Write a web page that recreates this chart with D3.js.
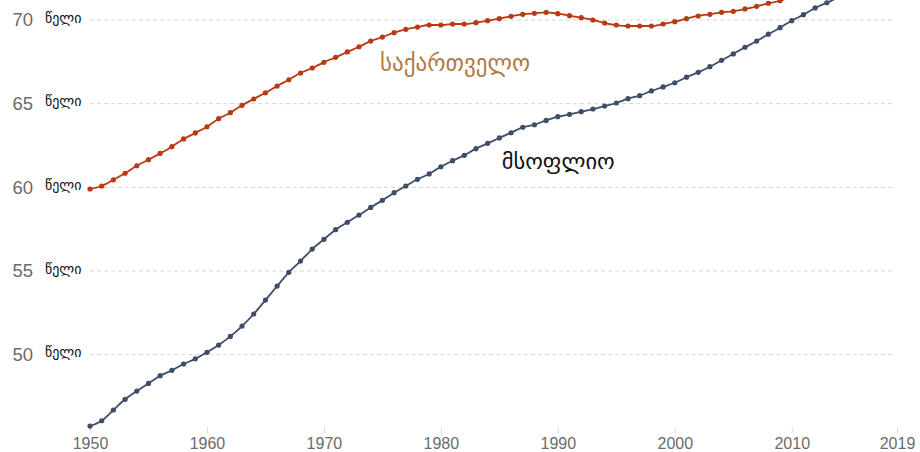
<!DOCTYPE html>
<html>
<head>
<meta charset="utf-8">
<script src="https://cdn.jsdelivr.net/npm/d3@7"></script>
<style>
  body { margin: 0; background: #fff; }
  svg { display: block; }
</style>
</head>
<body>
<div id="chart"></div>
<script>
"use strict";
// life expectancy, Georgia vs world

var years = d3.range(1950, 2020);

// Georgia (values after 2009 run above the top of the frame)
var georgia = [
  59.90, 60.08, 60.45, 60.84, 61.29, 61.65, 62.03, 62.43, 62.89, 63.25,
  63.62, 64.10, 64.46, 64.90, 65.28, 65.65, 66.05, 66.43, 66.83, 67.13,
  67.47, 67.77, 68.09, 68.40, 68.74, 68.98, 69.24, 69.44, 69.58, 69.70,
  69.70, 69.76, 69.76, 69.84, 69.96, 70.08, 70.22, 70.34, 70.40, 70.46,
  70.38, 70.26, 70.14, 70.00, 69.82, 69.70, 69.64, 69.64, 69.64, 69.76,
  69.90, 70.08, 70.24, 70.34, 70.46, 70.52, 70.66, 70.82, 71.00, 71.15,
  71.40, 71.60, 71.80, 72.00, 72.20, 72.40, 72.60, 72.80, 73.00, 73.20
];

// World
var world = [
  45.73, 46.05, 46.69, 47.33, 47.82, 48.28, 48.74, 49.06, 49.44, 49.75,
  50.14, 50.57, 51.09, 51.71, 52.43, 53.26, 54.10, 54.92, 55.59, 56.31,
  56.89, 57.47, 57.91, 58.34, 58.80, 59.22, 59.68, 60.08, 60.48, 60.80,
  61.23, 61.59, 61.91, 62.31, 62.63, 62.95, 63.26, 63.59, 63.74, 64.00,
  64.22, 64.36, 64.52, 64.68, 64.86, 65.04, 65.30, 65.48, 65.76, 66.00,
  66.25, 66.58, 66.87, 67.21, 67.59, 67.97, 68.37, 68.74, 69.15, 69.54,
  69.96, 70.32, 70.72, 71.03, 71.35, 71.65, 71.95, 72.20, 72.45, 72.70
];

var yTicks = [50, 55, 60, 65, 70];
var yUnit = "წელი";
var xTicks = [1950, 1960, 1970, 1980, 1990, 2000, 2010, 2019];

var seriesNames = ["საქართველო", "მსოფლიო"];
// where each name label sits (year, value)
var labelAt = [[1974.8, 67.45], [1985.2, 61.55]];

//Visualization parameters
var svgWidth = 920;
var svgHeight = 452;
var georgiaColor = "#b83a14";
var worldColor = "#3e4e69";
var labelColors = ["#b07a45", "#111"];

var x = d3.scaleLinear().domain([1950, 2019]).range([90, 897]);
var y = d3.scaleLinear().domain([45, 70]).range([438.3, 20]);

var svg = d3.select("#chart")
            .append("svg")
            .attr("width", svgWidth)
            .attr("height", svgHeight);

svg.append("rect")
    .attr("width", "100%")
    .attr("height", "100%")
    .attr("fill", "#fff");

//grid lines
svg.append("g").selectAll("line")
    .data(yTicks)
    .join("line")
    .attr("x1", x(1950))
    .attr("x2", 895)
    .attr("y1", function(d){ return y(d); })
    .attr("y2", function(d){ return y(d); })
    .attr("stroke", "#d4d4d4")
    .attr("stroke-width", 1)
    .attr("stroke-dasharray", "4,3");

//y labels: number + unit
var yl = svg.append("g").selectAll("g")
    .data(yTicks)
    .join("g")
    .attr("transform", function(d){ return "translate(0," + y(d) + ")"; });

yl.append("text")
    .attr("x", 33)
    .attr("dy", "0.35em")
    .attr("text-anchor", "end")
    .attr("font-family", "'Liberation Sans', Arial, sans-serif")
    .attr("font-size", 18.5)
    .attr("fill", "#6b6b6b")
    .text(function(d){ return d; });

yl.append("text")
    .attr("x", 45)
    .attr("dy", "0.2em")
    .attr("font-family", "'DejaVu Sans', sans-serif")
    .attr("font-size", 14)
    .attr("fill", "#111")
    .text(yUnit);

//x axis
var xAxis = d3.axisBottom(x)
    .tickValues(xTicks)
    .tickFormat(d3.format("d"))
    .tickSize(6)
    .tickPadding(5);

var gx = svg.append("g")
    .attr("transform", "translate(0,427)")
    .call(xAxis);
gx.select(".domain").remove();
gx.selectAll(".tick line").attr("stroke", "#ddd");
gx.selectAll(".tick text")
    .attr("font-family", "'Liberation Sans', Arial, sans-serif")
    .attr("font-size", 16)
    .attr("fill", "#6b6b6b");

//lines
var line = d3.line()
    .x(function(d){ return x(d[0]); })
    .y(function(d){ return y(d[1]); })
    .curve(d3.curveMonotoneX);

var series = [
  { name: seriesNames[0], color: georgiaColor, values: d3.zip(years, georgia) },
  { name: seriesNames[1], color: worldColor, values: d3.zip(years, world) }
];

series.slice().reverse().forEach(function(s){
    var g = svg.append("g");
    g.append("path")
        .datum(s.values)
        .attr("fill", "none")
        .attr("stroke", s.color)
        .attr("stroke-width", 1.8)
        .attr("d", line);
    g.selectAll("circle")
        .data(s.values)
        .join("circle")
        .attr("cx", function(d){ return x(d[0]); })
        .attr("cy", function(d){ return y(d[1]); })
        .attr("r", 2.6)
        .attr("fill", s.color);
});

//series labels
svg.append("g").selectAll("text")
    .data(series)
    .join("text")
    .attr("x", function(d, i){ return x(labelAt[i][0]); })
    .attr("y", function(d, i){ return y(labelAt[i][1]); })
    .attr("dy", "0.35em")
    .attr("font-family", "'DejaVu Sans', sans-serif")
    .attr("font-size", function(d, i){ return i === 0 ? 23 : 22.5; })
    .attr("font-weight", function(d, i){ return i === 1 ? 500 : 400; })
    .attr("fill", function(d, i){ return labelColors[i]; })
    .text(function(d){ return d.name; });
</script>
</body>
</html>
